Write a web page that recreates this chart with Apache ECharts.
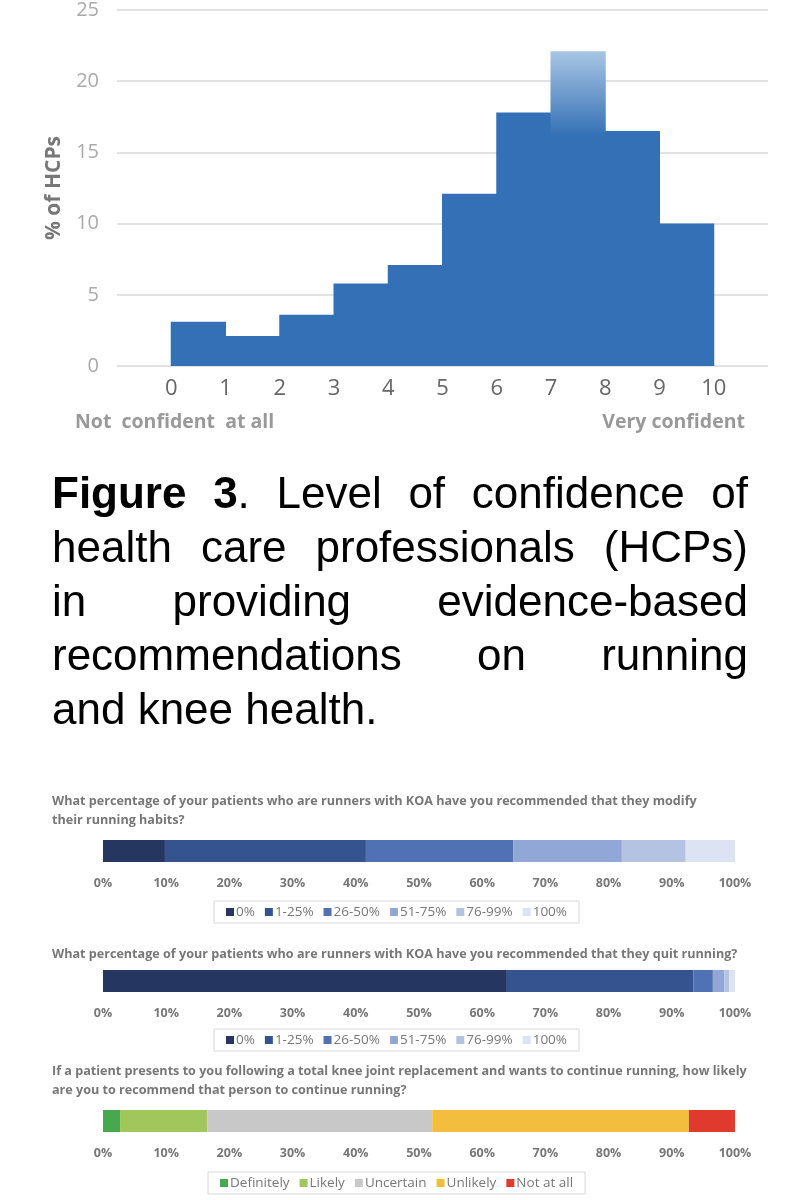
<!DOCTYPE html>
<html lang="en">
<head>
<meta charset="UTF-8">
<title>Figure 3</title>
<script src="https://cdn.jsdelivr.net/npm/echarts@6/dist/echarts.min.js"></script>
<style>
  body { margin: 0; background: #fff; }
  #chart { position: absolute; left: 0; top: 0; width: 801px; height: 1200px; }
  #caption { position: absolute; left: 52px; top: 466px; width: 696px; font-family: "Liberation Sans", Arial, sans-serif;
    font-size: 44px; line-height: 54px; color: #000; }
  #caption div { text-align: justify; text-align-last: justify; white-space: nowrap; }
  #caption div.last { text-align-last: left; }
</style>
</head>
<body>
<div id="chart"></div>
<div id="caption">
  <div><b>Figure 3</b>. Level of confidence of</div>
  <div>health care professionals (HCPs)</div>
  <div>in providing evidence-based</div>
  <div>recommendations on running</div>
  <div class="last">and knee health.</div>
</div>
<script>
  // histogram: bins 0-1 ... 9-10
  var binStart = [0, 1, 2, 3, 4, 5, 6, 7, 8, 9];
  var binPct = [3.1, 2.1, 3.6, 5.8, 7.1, 12.1, 17.8, 22.1, 16.5, 10.0];

  var pctNames = ['0%', '1-25%', '26-50%', '51-75%', '76-99%', '100%'];
  var pctColors = ['#253660', '#34538f', '#5171b5', '#91a7d6', '#b5c3e3', '#dce3f2'];
  var modifyVals = [9.8, 31.8, 23.3, 17.2, 10.1, 7.8];
  var quitVals = [63.9, 29.5, 3.1, 1.8, 0.8, 0.9];

  var likeNames = ['Definitely', 'Likely', 'Uncertain', 'Unlikely', 'Not at all'];
  var likeColors = ['#46a84f', '#a1c75c', '#c8c8c8', '#f3be3e', '#e03a2e'];
  var likeVals = [2.7, 13.8, 35.6, 40.6, 7.3];

  var q1 = 'What percentage of your patients who are runners with KOA have you recommended that they modify\ntheir running habits?';
  var q2 = 'What percentage of your patients who are runners with KOA have you recommended that they quit running?';
  var q3 = 'If a patient presents to you following a total knee joint replacement and wants to continue running, how likely\nare you to recommend that person to continue running?';

  var font = '"Liberation Sans Narrow", "Open Sans", sans-serif';
  var chart = echarts.init(document.getElementById('chart'));

  var barTops = [840, 970, 1110];
  var grids = [{ left: 117, right: 33, top: 3, height: 363 }];
  var xAxes = [{
    gridIndex: 0, type: 'value', min: -1, max: 11, interval: 1,
    axisLine: { show: false }, axisTick: { show: false }, splitLine: { show: false },
    axisLabel: { fontSize: 22, color: '#666', fontFamily: font, margin: 12,
      formatter: function (v) { return (v < 0 || v > 10) ? '' : v; } }
  }];
  var yAxes = [{
    gridIndex: 0, type: 'value', min: 0, max: 25, interval: 5,
    name: '% of HCPs', nameLocation: 'middle', nameGap: 52, nameRotate: 90,
    nameTextStyle: { fontSize: 21, fontWeight: 'bold', color: '#777', fontFamily: '"Open Sans", sans-serif' },
    axisLine: { show: false }, axisTick: { show: false },
    splitLine: { lineStyle: { color: '#e2e2e2', width: 2 } },
    axisLabel: { fontSize: 20, color: '#aaa', fontFamily: font, margin: 18 }
  }];
  barTops.forEach(function (t, i) {
    grids.push({ left: 103, right: 66, top: t, height: 22 });
    xAxes.push({
      gridIndex: i + 1, type: 'value', min: 0, max: 100, interval: 10,
      axisLine: { show: false }, axisTick: { show: false }, splitLine: { show: false },
      axisLabel: { fontSize: 12.5, fontWeight: 'bold', color: '#777', fontFamily: font, margin: 15,
        formatter: '{value}%' }
    });
    yAxes.push({ gridIndex: i + 1, type: 'category', data: [''], show: false });
  });

  var series = [{
    type: 'custom', xAxisIndex: 0, yAxisIndex: 0,
    data: binStart.map(function (s, i) { return [s, binPct[i]]; }),
    renderItem: function (params, api) {
      var p0 = api.coord([api.value(0), 0]);
      var p1 = api.coord([api.value(0) + 1, api.value(1)]);
      var fill = '#3370b5';
      if (api.value(0) === 7) {
        fill = new echarts.graphic.LinearGradient(0, 0, 0, 1,
          [{ offset: 0, color: '#a8c6e4' }, { offset: 0.27, color: '#3370b5' }, { offset: 1, color: '#3370b5' }]);
      }
      return { type: 'rect', shape: { x: p0[0] - 0.5, y: p1[1], width: p1[0] - p0[0] + 1, height: p0[1] - p1[1] },
        style: { fill: fill } };
    }
  }];
  function addStack(names, colors, vals, idx) {
    names.forEach(function (n, i) {
      series.push({ name: n, type: 'bar', stack: 's' + idx, xAxisIndex: idx, yAxisIndex: idx,
        barWidth: 22, itemStyle: { color: colors[i] }, data: [vals[i]] });
    });
  }
  addStack(pctNames, pctColors, modifyVals, 1);
  addStack(pctNames, pctColors, quitVals, 2);
  addStack(likeNames, likeColors, likeVals, 3);

  function legend(names, top, left) {
    return { data: names, top: top, left: left, orient: 'horizontal', itemWidth: 8, itemHeight: 8,
      itemGap: 10, selectedMode: false, icon: 'rect', borderColor: '#d8d8d8', borderWidth: 1,
      padding: [4, 12], textStyle: { fontSize: 13.5, color: '#777', fontFamily: font, padding: [0, 0, 0, -3] } };
  }

  var qStyle = { fill: '#777', font: 'bold 12.6px ' + font, lineHeight: 19 };
  chart.setOption({
    animation: false,
    grid: grids, xAxis: xAxes, yAxis: yAxes, series: series,
    legend: [legend(pctNames, 901, 214), legend(pctNames, 1029, 214), legend(likeNames, 1172, 208)],
    graphic: [
      { type: 'text', left: 75, top: 412, style: { text: 'Not  confident  at all', fontSize: 19.5, fontWeight: 'bold', fill: '#999', fontFamily: font } },
      { type: 'text', right: 56, top: 412, style: { text: 'Very confident', fontSize: 19.5, fontWeight: 'bold', fill: '#999', fontFamily: font } },
      { type: 'text', left: 52, top: 792, style: Object.assign({ text: q1 }, qStyle) },
      { type: 'text', left: 52, top: 945, style: Object.assign({ text: q2 }, qStyle) },
      { type: 'text', left: 52, top: 1062, style: Object.assign({ text: q3 }, qStyle) }
    ]
  });
</script>
</body>
</html>
